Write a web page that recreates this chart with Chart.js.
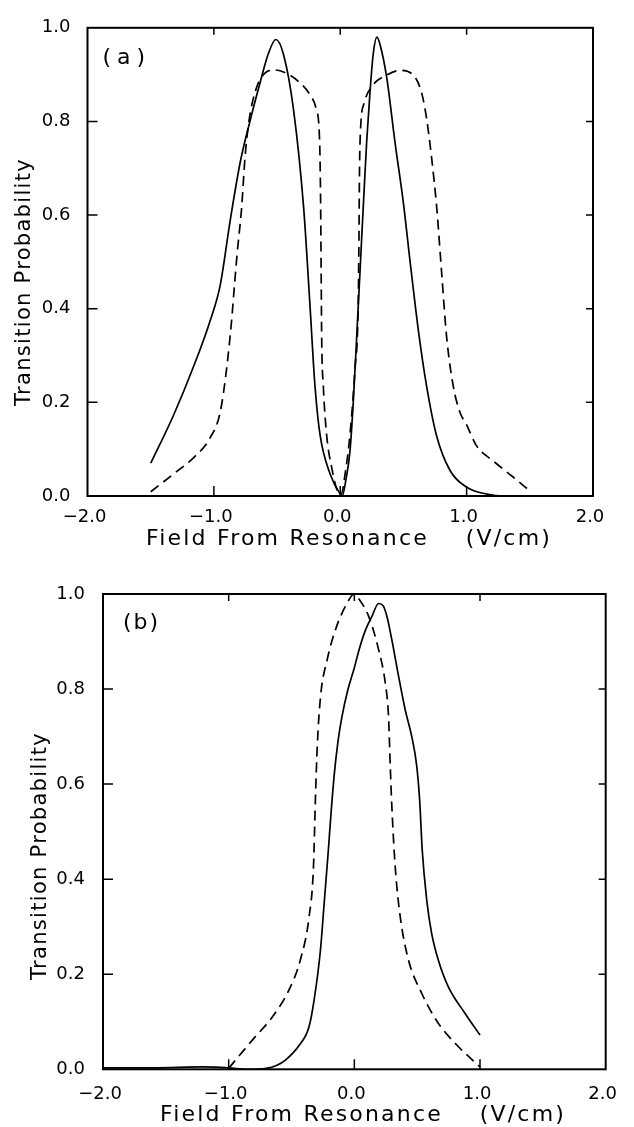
<!DOCTYPE html>
<html>
<head>
<meta charset="utf-8">
<title>Transition Probability vs Field From Resonance</title>
<script src="https://cdn.jsdelivr.net/npm/chart.js@4.4.1/dist/chart.umd.min.js"></script>
<style>
  html, body { margin: 0; padding: 0; background: #fff; }
  body { width: 634px; height: 1127px; position: relative; overflow: hidden; }
  canvas { position: absolute; left: 0; }
  #chartA { top: 0; }
  #chartB { top: 560px; }
</style>
</head>
<body>
<canvas id="chartA" width="634" height="560"></canvas>
<canvas id="chartB" width="634" height="567"></canvas>
<script>
// axis ticks
const xTicks = [-2, -1, 0, 1, 2];
const yTicks = [0, 0.2, 0.4, 0.6, 0.8, 1.0];
const xInnerTicks = [-1, 0, 1];
const yInnerTicks = [0.2, 0.4, 0.6, 0.8];

// panel (a), solid curve
const aSolidX = [-1.5, -1.32, -1.16, -1.03, -0.95, -0.87, -0.79, -0.71, -0.635, -0.57, -0.51, -0.45,
  -0.37, -0.29, -0.24, -0.20, -0.16, -0.08, 0.0, 0.015, 0.045, 0.077, 0.103, 0.13, 0.156, 0.182,
  0.209, 0.235, 0.261, 0.29, 0.314, 0.367, 0.433, 0.50, 0.555, 0.62, 0.68, 0.76, 0.87, 1.0, 1.16, 1.3, 1.45];
const aSolidY = [0.07, 0.172, 0.277, 0.374, 0.45, 0.59, 0.715, 0.805, 0.882, 0.944, 0.975, 0.944,
  0.826, 0.617, 0.409, 0.235, 0.131, 0.047, 0.004, 0.0, 0.035, 0.096, 0.2, 0.339, 0.478, 0.617,
  0.756, 0.861, 0.944, 0.98, 0.965, 0.895, 0.756, 0.625, 0.495, 0.35, 0.24, 0.131, 0.054, 0.019, 0.004, 0.0, 0.0];

// panel (a), dashed curve
const aDashX = [-1.5, -1.32, -1.16, -1.03, -0.95, -0.90, -0.86, -0.835, -0.815, -0.78, -0.754, -0.72,
  -0.66, -0.60, -0.52, -0.42, -0.33, -0.24, -0.19, -0.163, -0.155, -0.151, -0.147, -0.134, -0.108,
  -0.068, -0.016, 0.005, 0.04, 0.077, 0.116, 0.142, 0.148, 0.152, 0.16, 0.19, 0.248, 0.367, 0.472,
  0.578, 0.644, 0.684, 0.723, 0.763, 0.802, 0.842, 0.894, 0.947, 1.0, 1.079, 1.21, 1.37, 1.5];
const aDashY = [0.009, 0.047, 0.082, 0.124, 0.179, 0.27, 0.374, 0.457, 0.52, 0.617, 0.722, 0.805,
  0.874, 0.902, 0.91, 0.902, 0.885, 0.857, 0.826, 0.756, 0.617, 0.478, 0.339, 0.235, 0.131,
  0.061, 0.006, 0.002, 0.05, 0.131, 0.27, 0.409, 0.548, 0.687, 0.78, 0.84, 0.874, 0.899, 0.909,
  0.899, 0.861, 0.805, 0.722, 0.617, 0.478, 0.339, 0.235, 0.179, 0.152, 0.107, 0.075, 0.04, 0.011];

// panel (b), solid curve
const bSolidX = [-2.0, -1.6, -1.2, -1.0, -0.85, -0.70, -0.62, -0.546, -0.44, -0.36, -0.32, -0.27,
  -0.24, -0.21, -0.185, -0.16, -0.13, -0.10, -0.05, 0.0, 0.04, 0.09, 0.14, 0.193, 0.23, 0.259,
  0.298, 0.352, 0.405, 0.457, 0.497, 0.52, 0.54, 0.576, 0.615, 0.668, 0.747, 0.88, 1.0];
const bSolidY = [0.003, 0.003, 0.005, 0.003, 0.0, 0.002, 0.008, 0.02, 0.05, 0.09, 0.146, 0.25,
  0.35, 0.45, 0.54, 0.62, 0.69, 0.74, 0.80, 0.845, 0.885, 0.925, 0.953, 0.98, 0.975, 0.953,
  0.904, 0.827, 0.756, 0.70, 0.637, 0.565, 0.462, 0.356, 0.286, 0.23, 0.174, 0.118, 0.072];

// panel (b), dashed curve
const bDashX = [-1.0, -0.81, -0.65, -0.52, -0.43, -0.36, -0.325, -0.31, -0.295, -0.269, -0.216, -0.15,
  -0.071, 0.0, 0.035, 0.114, 0.193, 0.246, 0.272, 0.286, 0.296, 0.325, 0.365, 0.431, 0.536, 0.668, 0.827, 1.0];
const bDashY = [0.002, 0.062, 0.111, 0.167, 0.23, 0.321, 0.427, 0.567, 0.68, 0.784, 0.862, 0.925,
  0.974, 1.0, 0.99, 0.953, 0.883, 0.813, 0.742, 0.637, 0.567, 0.427, 0.321, 0.23, 0.16, 0.097, 0.048, 0.005];

const xTitle = 'Field From Resonance    (V/cm)';
const yTitle = 'Transition Probability';

Chart.defaults.font.family = '"DejaVu Sans", sans-serif';
Chart.defaults.font.size = 18;
Chart.defaults.color = '#000';

function toPoints(xs, ys) {
  return xs.map((x, i) => ({ x: x, y: ys[i] }));
}

function fmtX(v) {
  return (v < 0 ? '\u2212' : '') + Math.abs(v).toFixed(1);
}

// box, inward ticks, panel tag and axis titles
const framePlugin = {
  id: 'frame',
  afterDatasetsDraw(chart, args, opts) {
    const { ctx, chartArea: a } = chart;
    const x = chart.scales.x, y = chart.scales.y;
    ctx.save();
    ctx.strokeStyle = '#000';
    ctx.lineWidth = 2;
    ctx.strokeRect(a.left, a.top, a.right - a.left, a.bottom - a.top);

    ctx.lineWidth = 1.5;
    ctx.beginPath();
    xInnerTicks.forEach(v => {
      const px = x.getPixelForValue(v);
      ctx.moveTo(px, a.bottom); ctx.lineTo(px, a.bottom - 10);
      ctx.moveTo(px, a.top); ctx.lineTo(px, a.top + 7);
    });
    yInnerTicks.forEach(v => {
      const py = y.getPixelForValue(v);
      ctx.moveTo(a.left, py); ctx.lineTo(a.left + 10, py);
      ctx.moveTo(a.right, py); ctx.lineTo(a.right - 7, py);
    });
    ctx.stroke();

    ctx.fillStyle = '#000';
    ctx.textBaseline = 'middle';

    ctx.font = '22px "DejaVu Sans", sans-serif';
    ctx.letterSpacing = opts.tagSpacing + 'px';
    ctx.textAlign = 'left';
    ctx.fillText(opts.tag, a.left + opts.tagDx, a.top + opts.tagDy);

    ctx.letterSpacing = '2.2px';
    ctx.textAlign = 'center';
    ctx.fillText(xTitle, opts.xTitleX, opts.xTitleY);

    ctx.font = '21px "DejaVu Sans", sans-serif';
    ctx.letterSpacing = '1.3px';
    ctx.translate(opts.yTitleX, opts.yTitleY);
    ctx.rotate(-Math.PI / 2);
    ctx.fillText(yTitle, 0, 0);
    ctx.restore();
  }
};

function makePanel(canvasId, solidX, solidY, dashX, dashY, lay) {
  const line = {
    showLine: true,
    pointRadius: 0,
    borderColor: '#000',
    borderWidth: 1.7,
    cubicInterpolationMode: 'monotone',
    fill: false
  };
  return new Chart(document.getElementById(canvasId), {
    type: 'scatter',
    data: {
      datasets: [
        Object.assign({ data: toPoints(solidX, solidY) }, line),
        Object.assign({ data: toPoints(dashX, dashY), borderDash: [10, 6] }, line)
      ]
    },
    options: {
      responsive: false,
      animation: false,
      devicePixelRatio: 1,
      layout: { padding: lay.padding },
      plugins: {
        legend: { display: false },
        tooltip: { enabled: false },
        frame: lay.frame
      },
      scales: {
        x: {
          type: 'linear',
          min: -2,
          max: 2,
          afterBuildTicks: s => { s.ticks = xTicks.map(v => ({ value: v })); },
          afterFit: s => { s.height = lay.xAxisHeight; },
          ticks: { callback: fmtX, padding: lay.xPad, labelOffset: -3, maxRotation: 0, autoSkip: false },
          grid: { display: false, drawTicks: false },
          border: { display: false }
        },
        y: {
          type: 'linear',
          min: 0,
          max: 1,
          afterBuildTicks: s => { s.ticks = yTicks.map(v => ({ value: v })); },
          afterFit: s => { s.width = lay.yAxisWidth; },
          ticks: { callback: v => v.toFixed(1), padding: lay.yPad, autoSkip: false },
          grid: { display: false, drawTicks: false },
          border: { display: false }
        }
      }
    },
    plugins: [framePlugin]
  });
}

makePanel('chartA', aSolidX, aSolidY, aDashX, aDashY, {
  padding: { top: 16.5, right: 41, left: 0, bottom: 0 },
  yAxisWidth: 87.5,
  xAxisHeight: 64,
  xPad: 11,
  yPad: 17,
  frame: { tag: '(a)', tagSpacing: 6, tagDx: 15, tagDy: 30,
           xTitleX: 349, xTitleY: 539, yTitleX: 25, yTitleY: 282 }
});

makePanel('chartB', bSolidX, bSolidY, bDashX, bDashY, {
  padding: { top: 34, right: 26, left: 0, bottom: 0 },
  yAxisWidth: 103,
  xAxisHeight: 57.7,
  xPad: 14,
  yPad: 18,
  frame: { tag: '(b)', tagSpacing: 2, tagDx: 20, tagDy: 29,
           xTitleX: 363, xTitleY: 555, yTitleX: 41, yTitleY: 296 }
});
</script>
</body>
</html>
